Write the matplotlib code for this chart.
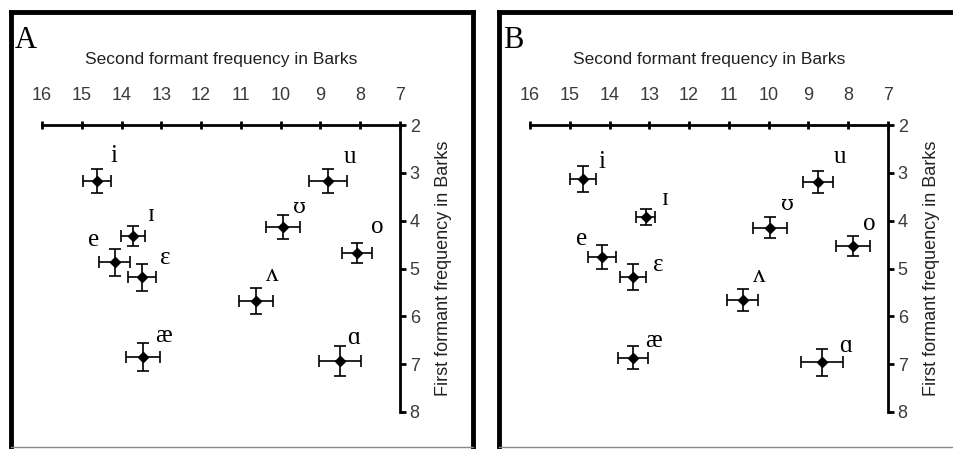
'''
    Vowel formant charts, panels A and B
'''
import numpy as np
import matplotlib
matplotlib.use('Agg')
import matplotlib.pyplot as plt
from matplotlib.lines import Line2D

# vowel symbols
vowels = ['i', 'ɪ', 'e', 'ɛ', 'æ', 'u', 'ʊ', 'o', 'ʌ', 'ɑ']

# panel A (F2, F1 in Barks, with error half-widths)
f2_a = [14.62, 13.71, 14.17, 13.49, 13.46, 8.81, 9.94, 8.09, 10.62, 8.51]
f1_a = [3.17, 4.32, 4.87, 5.18, 6.85, 3.17, 4.13, 4.68, 5.68, 6.94]
f2err_a = [0.36, 0.30, 0.39, 0.36, 0.43, 0.48, 0.43, 0.38, 0.42, 0.53]
f1err_a = [0.25, 0.20, 0.28, 0.28, 0.29, 0.25, 0.25, 0.21, 0.27, 0.31]

# panel B
f2_b = [14.67, 13.09, 14.19, 13.41, 13.41, 8.76, 9.97, 7.88, 10.65, 8.66]
f1_b = [3.13, 3.93, 4.76, 5.18, 6.87, 3.19, 4.15, 4.53, 5.66, 6.96]
f2err_b = [0.33, 0.24, 0.34, 0.33, 0.37, 0.38, 0.42, 0.43, 0.39, 0.52]
f1err_b = [0.27, 0.17, 0.25, 0.27, 0.24, 0.23, 0.22, 0.20, 0.23, 0.28]

x_ticks = list(range(16, 6, -1))
y_ticks = list(range(2, 9))

# label offsets in points (layout only)
offs_a = [(12, 18), (13, 15), (-15, 16), (17, 14), (15, 15),
          (16, 17), (12, 14), (15, 19), (12, 19), (10, 17)]
offs_b = [(14, 12), (14, 13), (-15, 13), (18, 9), (15, 12),
          (16, 18), (13, 17), (12, 16), (12, 17), (17, 12)]

W, H = 954, 449
fig = plt.figure(figsize=(W / 100, H / 100), dpi=100)
gray = '#3a3a3a'
sans = ['Liberation Sans', 'DejaVu Sans']
serif = ['Liberation Serif', 'DejaVu Serif']


def panel(x0, letter, f2, f1, e2, e1, offs):
    ax = fig.add_axes([x0 / W, 1 - 412 / H, 358 / W, 287 / H])
    ax.errorbar(f2, f1, xerr=e2, yerr=e1, fmt='D', color='black',
                ms=5, elinewidth=1.2, capsize=4, capthick=1.2)
    for v, x, y, o in zip(vowels, f2, f1, offs):
        fam = ['DejaVu Serif'] if v == 'ʊ' else serif
        ax.annotate(v, (x, y), xytext=o, textcoords='offset points',
                    ha='center', va='center',
                    fontsize=15 if v == 'ʊ' else 18, family=fam)
    ax.set_xlim(16, 7)
    ax.set_ylim(8, 2)
    ax.set_xticks(x_ticks)
    ax.set_yticks(y_ticks)
    for s in ['left', 'bottom']:
        ax.spines[s].set_visible(False)
    for s in ['top', 'right']:
        ax.spines[s].set_linewidth(2)
    ax.xaxis.tick_top()
    ax.yaxis.tick_right()
    ax.tick_params(axis='x', direction='inout', length=6, width=2,
                   pad=12, labelsize=13, labelcolor=gray)
    ax.tick_params(axis='y', direction='out', length=4, width=2,
                   pad=3, labelsize=13, labelcolor=gray)
    for t in ax.get_xticklabels() + ax.get_yticklabels():
        t.set_family(sans)
    ax.xaxis.set_label_position('top')
    ax.yaxis.set_label_position('right')
    ax.set_xlabel('Second formant frequency in Barks', fontsize=12.5,
                  family=sans, color='#222222', labelpad=17)
    ax.set_ylabel('First formant frequency in Barks', fontsize=13,
                  family=sans, color='#222222', labelpad=11)
    fig.text((x0 - 27) / W, 1 - 40 / H, letter, fontsize=22,
             family=serif, ha='left', va='center')
    return ax


panel(42, 'A', f2_a, f1_a, f2err_a, f1err_a, offs_a)
panel(530, 'B', f2_b, f1_b, f2err_b, f1err_b, offs_b)

# outer frames
def frame(xl, xr):
    kw = dict(color='black', lw=3.5, transform=fig.transFigure)
    fig.add_artist(Line2D([xl / W, xl / W], [1 - 12 / H, 1 - 447 / H], **kw))
    fig.add_artist(Line2D([xl / W, xr / W], [1 - 12 / H, 1 - 12 / H], **kw))
    if xr < W:
        fig.add_artist(Line2D([xr / W, xr / W], [1 - 12 / H, 1 - 447 / H], **kw))
    fig.add_artist(Line2D([xl / W, xr / W], [1 - 447 / H, 1 - 447 / H],
                          color='#888888', lw=1, transform=fig.transFigure))


frame(11, 473)
frame(499, W)

fig.savefig('out.png', dpi=100)
